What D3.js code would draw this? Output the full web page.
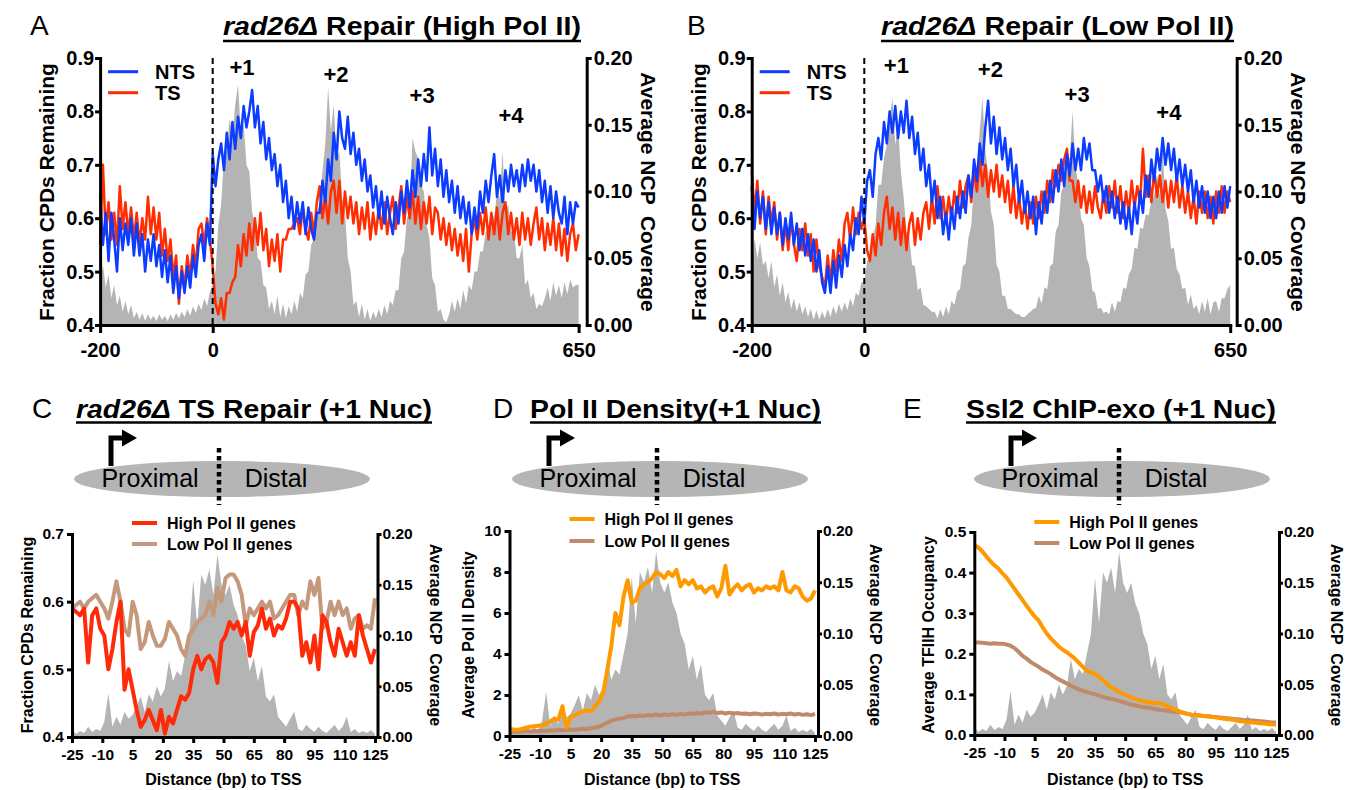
<!DOCTYPE html>
<html>
<head>
<meta charset="utf-8">
<script src="https://cdn.jsdelivr.net/npm/d3@7"></script>
<style>
  body { margin: 0; background: #fff; }
  svg { font-family: 'Liberation Sans', Arial, Helvetica, sans-serif; }
</style>
</head>
<body>
<svg id="fig" width="1347" height="790"></svg>
<script>
// ---- top panels (A, B): values every 5 bp from -200 to 650 ----
const topBp = d3.range(-200, 651, 5)

const ntsHigh = [
  0.645,0.55,0.61,0.52,0.61,0.56,0.50,0.60,0.54,0.59,
  0.55,0.60,0.53,0.59,0.53,0.57,0.50,0.56,0.52,0.57,
  0.51,0.55,0.49,0.54,0.48,0.53,0.46,0.51,0.45,0.50,
  0.46,0.51,0.47,0.53,0.49,0.55,0.57,0.52,0.59,0.55,
  0.72,0.66,0.71,0.74,0.69,0.76,0.71,0.78,0.73,0.79,
  0.75,0.81,0.77,0.80,0.84,0.77,0.81,0.74,0.78,0.71,
  0.75,0.69,0.72,0.66,0.70,0.63,0.67,0.60,0.64,0.58,
  0.63,0.59,0.63,0.57,0.62,0.58,0.56,0.61,0.61,0.67,
  0.63,0.71,0.67,0.76,0.71,0.80,0.75,0.73,0.79,0.72,
  0.76,0.70,0.73,0.67,0.71,0.65,0.68,0.62,0.66,0.60,
  0.65,0.59,0.64,0.60,0.57,0.63,0.59,0.65,0.61,0.67,
  0.62,0.69,0.64,0.71,0.66,0.72,0.67,0.77,0.68,0.73,
  0.66,0.71,0.64,0.69,0.63,0.67,0.61,0.66,0.60,0.64,
  0.59,0.63,0.57,0.62,0.58,0.65,0.61,0.67,0.63,0.68,
  0.72,0.64,0.68,0.63,0.69,0.65,0.70,0.66,0.69,0.65,
  0.70,0.66,0.71,0.67,0.70,0.65,0.69,0.63,0.67,0.61,
  0.66,0.60,0.65,0.61,0.59,0.64,0.57,0.63,0.59,0.63,
  0.62]

const tsHigh = [
  0.55,0.70,0.57,0.63,0.56,0.61,0.55,0.66,0.58,0.63,
  0.57,0.62,0.56,0.61,0.55,0.60,0.56,0.64,0.57,0.62,
  0.56,0.61,0.53,0.58,0.52,0.56,0.49,0.53,0.44,0.51,
  0.47,0.53,0.49,0.55,0.51,0.58,0.59,0.55,0.60,0.56,
  0.51,0.44,0.42,0.45,0.41,0.46,0.46,0.48,0.49,0.55,
  0.51,0.57,0.53,0.59,0.54,0.60,0.55,0.61,0.54,0.58,
  0.51,0.56,0.52,0.57,0.50,0.56,0.56,0.58,0.58,0.59,
  0.60,0.57,0.62,0.58,0.56,0.61,0.57,0.63,0.66,0.60,
  0.64,0.59,0.65,0.67,0.61,0.67,0.59,0.65,0.60,0.64,
  0.59,0.63,0.57,0.62,0.58,0.63,0.56,0.61,0.57,0.62,
  0.58,0.63,0.57,0.61,0.64,0.58,0.62,0.66,0.59,0.64,
  0.60,0.65,0.59,0.64,0.58,0.63,0.59,0.64,0.57,0.62,
  0.61,0.56,0.60,0.55,0.59,0.54,0.58,0.53,0.57,0.52,
  0.58,0.50,0.57,0.60,0.56,0.61,0.57,0.62,0.56,0.61,
  0.57,0.62,0.56,0.61,0.63,0.57,0.61,0.56,0.60,0.55,
  0.61,0.56,0.60,0.55,0.59,0.62,0.56,0.60,0.54,0.59,
  0.55,0.60,0.54,0.59,0.53,0.58,0.52,0.57,0.59,0.54,
  0.57]

const ncpHigh = [
  0.030,0.045,0.028,0.038,0.020,0.030,0.015,0.022,0.010,0.018,
  0.008,0.015,0.005,0.010,0.004,0.009,0.003,0.008,0.004,0.007,
  0.003,0.008,0.004,0.007,0.003,0.008,0.004,0.009,0.005,0.010,
  0.006,0.012,0.007,0.014,0.009,0.016,0.011,0.020,0.014,0.025,
  0.030,0.040,0.075,0.090,0.125,0.130,0.155,0.140,0.165,0.180,
  0.145,0.150,0.120,0.115,0.085,0.075,0.050,0.048,0.030,0.028,
  0.012,0.018,0.008,0.022,0.006,0.016,0.005,0.014,0.008,0.018,
  0.010,0.024,0.020,0.038,0.040,0.060,0.065,0.085,0.090,0.115,
  0.135,0.178,0.145,0.165,0.125,0.130,0.095,0.085,0.050,0.040,
  0.015,0.018,0.006,0.016,0.004,0.012,0.003,0.010,0.005,0.012,
  0.006,0.015,0.008,0.018,0.015,0.026,0.026,0.050,0.055,0.080,
  0.085,0.140,0.130,0.125,0.105,0.100,0.075,0.065,0.035,0.030,
  0.010,0.012,0.004,0.002,0.008,0.018,0.010,0.020,0.012,0.026,
  0.016,0.030,0.026,0.040,0.040,0.055,0.055,0.070,0.070,0.085,
  0.080,0.100,0.095,0.130,0.085,0.090,0.070,0.070,0.050,0.050,
  0.060,0.030,0.034,0.020,0.024,0.012,0.016,0.014,0.020,0.028,
  0.018,0.032,0.022,0.030,0.020,0.032,0.023,0.034,0.028,0.030,
  0.030]

const ntsLow = [
  0.66,0.58,0.65,0.60,0.64,0.58,0.63,0.57,0.62,0.57,
  0.61,0.55,0.60,0.56,0.61,0.55,0.59,0.54,0.58,0.53,
  0.57,0.52,0.56,0.50,0.54,0.48,0.46,0.51,0.46,0.52,
  0.47,0.53,0.49,0.55,0.51,0.57,0.54,0.60,0.57,0.64,
  0.59,0.67,0.69,0.64,0.72,0.75,0.71,0.78,0.74,0.80,
  0.76,0.81,0.75,0.80,0.76,0.82,0.75,0.79,0.72,0.76,
  0.69,0.73,0.66,0.70,0.63,0.67,0.60,0.64,0.57,0.61,
  0.56,0.62,0.58,0.64,0.60,0.65,0.61,0.68,0.64,0.71,
  0.67,0.74,0.70,0.77,0.82,0.74,0.79,0.72,0.77,0.71,
  0.75,0.69,0.73,0.66,0.70,0.63,0.67,0.61,0.65,0.60,
  0.64,0.57,0.63,0.59,0.65,0.61,0.67,0.63,0.69,0.65,
  0.71,0.66,0.72,0.68,0.74,0.69,0.73,0.69,0.75,0.71,
  0.74,0.69,0.69,0.65,0.68,0.63,0.66,0.61,0.65,0.60,
  0.64,0.59,0.63,0.58,0.62,0.57,0.63,0.59,0.65,0.61,
  0.68,0.64,0.71,0.67,0.73,0.69,0.75,0.70,0.74,0.69,
  0.73,0.67,0.71,0.66,0.70,0.65,0.69,0.63,0.67,0.62,
  0.66,0.61,0.65,0.60,0.64,0.60,0.65,0.61,0.66,0.62,
  0.66]

const tsLow = [
  0.69,0.61,0.67,0.59,0.65,0.57,0.64,0.59,0.63,0.56,
  0.61,0.54,0.59,0.54,0.60,0.55,0.52,0.58,0.54,0.59,
  0.53,0.57,0.50,0.56,0.51,0.49,0.47,0.53,0.48,0.54,
  0.50,0.56,0.52,0.59,0.61,0.56,0.62,0.57,0.61,0.58,
  0.60,0.54,0.52,0.57,0.53,0.59,0.55,0.61,0.64,0.58,
  0.62,0.56,0.61,0.55,0.60,0.54,0.59,0.61,0.55,0.60,
  0.56,0.61,0.63,0.58,0.64,0.59,0.66,0.60,0.64,0.59,
  0.64,0.60,0.65,0.61,0.67,0.62,0.66,0.68,0.63,0.69,
  0.65,0.71,0.66,0.70,0.64,0.69,0.65,0.70,0.64,0.68,
  0.63,0.67,0.61,0.66,0.60,0.64,0.59,0.63,0.58,0.63,
  0.59,0.64,0.60,0.65,0.61,0.67,0.63,0.69,0.66,0.70,
  0.67,0.71,0.73,0.67,0.67,0.63,0.67,0.62,0.66,0.61,
  0.65,0.61,0.66,0.62,0.60,0.65,0.61,0.66,0.62,0.67,
  0.61,0.66,0.60,0.65,0.61,0.67,0.62,0.66,0.63,0.73,
  0.64,0.68,0.63,0.69,0.64,0.68,0.63,0.67,0.62,0.67,
  0.63,0.68,0.62,0.66,0.61,0.65,0.60,0.64,0.59,0.65,
  0.61,0.65,0.60,0.64,0.59,0.65,0.61,0.66,0.61,0.65,
  0.63]

const ncpLow = [
  0.040,0.065,0.050,0.062,0.045,0.048,0.035,0.048,0.028,0.038,
  0.022,0.032,0.017,0.025,0.012,0.020,0.010,0.017,0.008,0.014,
  0.006,0.012,0.004,0.011,0.004,0.010,0.005,0.012,0.006,0.014,
  0.008,0.016,0.010,0.017,0.011,0.020,0.014,0.024,0.022,0.032,
  0.032,0.048,0.050,0.065,0.075,0.105,0.105,0.125,0.135,0.155,
  0.170,0.135,0.150,0.115,0.095,0.070,0.065,0.045,0.044,0.026,
  0.028,0.015,0.014,0.012,0.010,0.010,0.005,0.012,0.006,0.014,
  0.008,0.018,0.015,0.025,0.027,0.044,0.046,0.065,0.075,0.105,
  0.115,0.145,0.170,0.130,0.115,0.085,0.075,0.045,0.040,0.022,
  0.022,0.012,0.012,0.010,0.008,0.008,0.006,0.006,0.008,0.010,
  0.012,0.013,0.022,0.016,0.028,0.027,0.044,0.046,0.070,0.075,
  0.100,0.105,0.125,0.125,0.160,0.120,0.105,0.080,0.075,0.050,
  0.044,0.026,0.024,0.012,0.013,0.009,0.010,0.008,0.017,0.010,
  0.018,0.017,0.028,0.027,0.038,0.042,0.058,0.057,0.073,0.072,
  0.083,0.082,0.093,0.097,0.113,0.097,0.135,0.087,0.078,0.057,
  0.058,0.042,0.038,0.027,0.028,0.015,0.023,0.012,0.015,0.008,
  0.018,0.010,0.020,0.008,0.017,0.018,0.010,0.020,0.020,0.027,
  0.030]

const topXTicks = [-200, 0, 650]
const cpdTicks = [0.4, 0.5, 0.6, 0.7, 0.8, 0.9]
const ncpTicks = [0, 0.05, 0.1, 0.15, 0.2]
const nucLabelsHigh = [['+1', 52, 0.868], ['+2', 219, 0.855], ['+3', 372, 0.816], ['+4', 530, 0.778]]
const nucLabelsLow = [['+1', 57, 0.872], ['+2', 224, 0.864], ['+3', 378, 0.818], ['+4', 541, 0.784]]

// ---- bottom panels (C, D, E): values every 2 bp from -25 to 125 ----
const nucBp = d3.range(-25, 126, 2)

const tsRepairHigh = [
  0.59,0.585,0.58,0.59,0.51,0.58,0.59,0.56,0.55,0.50,0.53,0.57,0.60,
  0.47,0.50,0.47,0.44,0.415,0.425,0.44,0.425,0.41,0.44,0.405,0.43,
  0.42,0.44,0.46,0.455,0.465,0.50,0.52,0.50,0.515,0.52,0.51,0.48,
  0.54,0.55,0.57,0.56,0.57,0.55,0.57,0.52,0.555,0.565,0.59,0.56,
  0.575,0.55,0.565,0.56,0.575,0.60,0.60,0.59,0.52,0.54,0.51,0.55,
  0.50,0.58,0.57,0.54,0.52,0.56,0.54,0.52,0.54,0.52,0.58,0.55,
  0.53,0.51,0.53]

const tsRepairLow = [
  0.59,0.595,0.60,0.59,0.60,0.605,0.61,0.60,0.59,0.575,0.60,0.63,0.60,
  0.56,0.55,0.60,0.58,0.53,0.54,0.57,0.55,0.535,0.535,0.545,0.57,
  0.56,0.55,0.53,0.52,0.55,0.56,0.57,0.575,0.58,0.60,0.58,0.62,
  0.60,0.635,0.64,0.64,0.63,0.61,0.565,0.59,0.58,0.59,0.60,0.59,
  0.60,0.575,0.58,0.59,0.60,0.61,0.61,0.58,0.60,0.59,0.63,0.61,
  0.635,0.56,0.57,0.60,0.58,0.60,0.58,0.59,0.56,0.575,0.58,0.56,
  0.565,0.56,0.605]

const polIIHigh = [
  0.35,0.32,0.30,0.35,0.40,0.45,0.48,0.50,0.52,0.60,0.70,0.85,0.80,
  1.45,0.40,0.90,1.00,1.10,1.20,1.25,1.20,1.45,1.70,2.10,3.20,
  4.40,6.00,5.40,6.80,7.60,6.50,6.60,7.20,7.40,7.50,7.70,8.00,
  7.90,7.70,8.00,7.80,8.10,7.30,7.60,7.40,7.60,7.20,7.30,7.00,
  7.20,7.30,6.80,7.20,8.30,6.90,7.20,7.40,7.10,7.30,7.40,7.00,
  7.20,7.10,7.30,7.20,7.30,7.10,8.00,7.10,7.00,7.30,7.20,6.80,
  6.60,6.70,7.10]

const polIILow = [
  0.20,0.22,0.20,0.22,0.24,0.22,0.25,0.23,0.26,0.25,0.28,0.27,0.30,
  0.28,0.30,0.32,0.30,0.33,0.35,0.34,0.38,0.40,0.45,0.55,0.65,
  0.75,0.80,0.85,0.88,0.95,0.98,0.96,1.00,0.98,1.02,1.00,1.05,
  1.00,1.05,1.02,1.06,1.04,1.08,1.05,1.10,1.08,1.12,1.10,1.15,
  1.13,1.18,1.12,1.15,1.10,1.14,1.10,1.12,1.08,1.10,1.06,1.10,
  1.08,1.05,1.08,1.06,1.10,1.05,1.08,1.06,1.10,1.05,1.08,1.03,
  1.06,1.02,1.08]

const tfiihHigh = [
  0.468,0.462,0.452,0.440,0.428,0.418,0.410,0.398,0.388,0.374,0.360,0.346,0.332,
  0.318,0.305,0.292,0.282,0.265,0.250,0.238,0.228,0.218,0.210,0.204,0.196,
  0.188,0.178,0.168,0.158,0.154,0.150,0.143,0.135,0.126,0.118,0.112,0.106,
  0.101,0.097,0.093,0.089,0.086,0.083,0.082,0.080,0.079,0.078,0.076,0.071,
  0.066,0.062,0.058,0.055,0.052,0.050,0.049,0.048,0.047,0.046,0.045,0.044,
  0.042,0.040,0.039,0.038,0.036,0.034,0.033,0.032,0.031,0.030,0.029,0.028,
  0.027,0.026,0.026]

const tfiihLow = [
  0.228,0.228,0.227,0.226,0.225,0.226,0.225,0.225,0.223,0.220,0.214,0.205,0.195,
  0.188,0.180,0.174,0.168,0.161,0.156,0.150,0.143,0.137,0.132,0.127,0.122,
  0.117,0.112,0.109,0.106,0.103,0.100,0.097,0.094,0.091,0.089,0.087,0.084,
  0.081,0.078,0.075,0.073,0.071,0.069,0.068,0.066,0.064,0.062,0.061,0.060,
  0.058,0.057,0.056,0.054,0.052,0.050,0.049,0.048,0.047,0.046,0.045,0.044,
  0.043,0.042,0.041,0.040,0.039,0.038,0.037,0.037,0.036,0.035,0.034,0.033,
  0.032,0.031,0.031]

const ncpNuc1 = [
  0.008,0.003,0.006,0.004,0.010,0.005,0.008,0.006,0.015,0.043,0.010,0.020,0.012,
  0.025,0.018,0.022,0.030,0.040,0.025,0.042,0.035,0.050,0.040,0.048,0.075,
  0.055,0.065,0.060,0.080,0.100,0.155,0.110,0.160,0.150,0.165,0.140,0.180,
  0.150,0.140,0.150,0.130,0.120,0.100,0.090,0.065,0.078,0.055,0.070,0.040,
  0.035,0.042,0.020,0.015,0.010,0.018,0.025,0.008,0.006,0.012,0.008,0.005,
  0.010,0.006,0.004,0.008,0.012,0.006,0.010,0.020,0.005,0.008,0.004,0.006,
  0.004,0.007,0.003]

const nucXTicks = d3.range(-25, 126, 15)

const BLUE = '#0b3cff', RED = '#ff2d00', GRAY = '#b4b4b4'
const ORANGE = '#ff9900', TAN = '#c4987a', BROWN = '#c08a68'

const svg = d3.select('#fig')

const styleAxis = (sel, size) => {
  sel.attr('font-family', null).attr('font-size', size).attr('font-weight', 'bold')
  sel.select('.domain').attr('stroke-width', 3).attr('stroke-linecap', 'square')
  sel.selectAll('.tick line').attr('stroke-width', 3)
  sel.selectAll('.tick text').attr('fill', '#000')
}

const panelTitle = (letter, lx, parts, x1, x2, y, uy) => {
  svg.append('text').attr('x', lx).attr('y', y).attr('font-size', 28).text(letter)
  const t = svg.append('text').attr('font-size', 25).attr('font-weight', 'bold')
  parts.forEach(p => t.append('tspan').attr('font-style', p[1] ? 'italic' : null).text(p[0]))
  const w = t.node().getComputedTextLength()
  t.attr('transform', `translate(${x1},${y}) scale(${(x2 - x1) / w},1)`)
  svg.append('line').attr('x1', x1).attr('x2', x2).attr('y1', uy).attr('y2', uy)
    .attr('stroke', '#000').attr('stroke-width', 2.5)
}

const vTitle = (txt, x, y, size, angle) => {
  svg.append('text').attr('transform', `translate(${x},${y}) rotate(${angle})`)
    .attr('text-anchor', 'middle').attr('font-size', size).attr('font-weight', 'bold')
    .style('white-space', 'pre').text(txt)
}

// Top repair panels
const repairPanel = (o) => {
  const x = d3.scaleLinear().domain([-200, 650]).range([o.left, o.left + 478.5])
  const y = d3.scaleLinear().domain([0.4, 0.9]).range([325, 58])
  const y2 = d3.scaleLinear().domain([0, 0.2]).range([325, 58])
  const g = svg.append('g')

  g.append('path').datum(o.ncp)
    .attr('fill', GRAY)
    .attr('d', d3.area().x((d, i) => x(topBp[i])).y0(y2(0)).y1(d => y2(d)))

  const line = d3.line().x((d, i) => x(topBp[i])).y(d => y(d))
  g.append('path').datum(o.ts).attr('fill', 'none').attr('stroke', RED)
    .attr('stroke-width', 2.5).attr('stroke-linejoin', 'round').attr('d', line)
  g.append('path').datum(o.nts).attr('fill', 'none').attr('stroke', BLUE)
    .attr('stroke-width', 2.5).attr('stroke-linejoin', 'round').attr('d', line)

  g.append('line').attr('x1', x(0)).attr('x2', x(0)).attr('y1', 58).attr('y2', 325)
    .attr('stroke', '#000').attr('stroke-width', 2).attr('stroke-dasharray', '6,4')

  g.append('g').attr('transform', 'translate(0,325)')
    .call(d3.axisBottom(x).tickValues(topXTicks).tickFormat(d => String(d))
      .tickSize(8).tickPadding(10).tickSizeOuter(0))
    .call(s => styleAxis(s, 20))
  g.append('g').attr('transform', `translate(${o.left},0)`)
    .call(d3.axisLeft(y).tickValues(cpdTicks).tickFormat(d3.format('.1f'))
      .tickSize(5).tickPadding(1).tickSizeOuter(0))
    .call(s => styleAxis(s, 20))
  g.append('g').attr('transform', `translate(${o.raxis},0)`)
    .call(d3.axisRight(y2).tickValues(ncpTicks).tickFormat(d3.format('.2f'))
      .tickSize(5).tickPadding(2).tickSizeOuter(0))
    .call(s => styleAxis(s, 20))

  o.labels.forEach(l => {
    g.append('text').attr('x', x(l[1])).attr('y', y(l[2])).attr('text-anchor', 'middle')
      .attr('font-size', 22).attr('font-weight', 'bold').text(l[0])
  })

  const leg = [['NTS', BLUE, 71.7], ['TS', RED, 92.7]]
  leg.forEach(l => {
    g.append('line').attr('x1', o.left + 8).attr('x2', o.left + 38).attr('y1', l[2]).attr('y2', l[2])
      .attr('stroke', l[1]).attr('stroke-width', 3)
    g.append('text').attr('x', o.left + 55).attr('y', l[2] + 7).attr('font-size', 20)
      .attr('font-weight', 'bold').text(l[0])
  })

  vTitle('Fraction CPDs Remaining', o.left - 46, 192, 21, -90)
  vTitle('Average NCP  Coverage', o.raxis + 54, 192, 21, 90)
}

repairPanel({ left: 100.1, raxis: 586.7, nts: ntsHigh, ts: tsHigh, ncp: ncpHigh, labels: nucLabelsHigh })
repairPanel({ left: 751.7, raxis: 1236.7, nts: ntsLow, ts: tsLow, ncp: ncpLow, labels: nucLabelsLow })

panelTitle('A', 30, [['rad26Δ', true], [' Repair (High Pol II)', false]], 223, 581, 35, 41)
panelTitle('B', 687, [['rad26Δ', true], [' Repair (Low Pol II)', false]], 881, 1234, 35, 41)

// Bottom +1 nucleosome panels
const nucPanel = (o) => {
  const x = d3.scaleLinear().domain([-25, 125]).range([o.left, o.right])
  const y = d3.scaleLinear().domain(o.yDomain).range([o.bottom, o.top])
  const y2 = d3.scaleLinear().domain([0, 0.2]).range([o.bottom, o.top])
  const g = svg.append('g')

  // schematic: promoter arrow, nucleosome, dyad
  const cx = o.cx
  g.append('path').attr('d', `M${cx - 111},466V438H${cx - 98}`)
    .attr('fill', 'none').attr('stroke', '#000').attr('stroke-width', 5)
  g.append('path').attr('d', `M${cx - 100},429.5L${cx - 85},438L${cx - 100},446.5Z`).attr('fill', '#000')
  g.append('ellipse').attr('cx', cx).attr('cy', 479).attr('rx', 148).attr('ry', 18).attr('fill', '#b5b5b5')
  g.append('text').attr('x', cx - 72).attr('y', 487).attr('text-anchor', 'middle')
    .attr('font-size', 25).text('Proximal')
  g.append('text').attr('x', cx + 54).attr('y', 487).attr('text-anchor', 'middle')
    .attr('font-size', 25).text('Distal')
  g.append('line').attr('x1', cx - 3).attr('x2', cx - 3).attr('y1', 448).attr('y2', 505)
    .attr('stroke', '#000').attr('stroke-width', 4.5).attr('stroke-dasharray', '4.5,3.5')

  g.append('path').datum(ncpNuc1)
    .attr('fill', GRAY)
    .attr('d', d3.area().x((d, i) => x(nucBp[i])).y0(y2(0)).y1(d => y2(d)))

  const line = d3.line().x((d, i) => x(nucBp[i])).y(d => y(d))
  g.append('path').datum(o.low).attr('fill', 'none').attr('stroke', o.lowColor)
    .attr('stroke-width', 4).attr('stroke-linejoin', 'round').attr('d', line)
  g.append('path').datum(o.high).attr('fill', 'none').attr('stroke', o.highColor)
    .attr('stroke-width', 4).attr('stroke-linejoin', 'round').attr('d', line)

  g.append('g').attr('transform', `translate(0,${o.bottom})`)
    .call(d3.axisBottom(x).tickValues(nucXTicks).tickFormat(d => String(d))
      .tickSize(6).tickPadding(6).tickSizeOuter(0))
    .call(s => styleAxis(s, 15.5))
  g.append('g').attr('transform', `translate(${o.left},0)`)
    .call(d3.axisLeft(y).tickValues(o.yTicks).tickFormat(o.yFormat)
      .tickSize(5).tickPadding(3).tickSizeOuter(0))
    .call(s => styleAxis(s, 15.5))
  g.append('g').attr('transform', `translate(${o.raxis},0)`)
    .call(d3.axisRight(y2).tickValues(ncpTicks).tickFormat(d3.format('.2f'))
      .tickSize(4).tickPadding(1).tickSizeOuter(0))
    .call(s => styleAxis(s, 15.5))

  const leg = [['High Pol II genes', o.highColor, o.legY[0]], ['Low Pol II genes', o.lowColor, o.legY[1]]]
  leg.forEach(l => {
    g.append('line').attr('x1', o.left + 60).attr('x2', o.left + 85).attr('y1', l[2]).attr('y2', l[2])
      .attr('stroke', l[1]).attr('stroke-width', 4)
    g.append('text').attr('x', o.left + 95).attr('y', l[2] + 6).attr('font-size', 16)
      .attr('font-weight', 'bold').text(l[0])
  })

  vTitle(o.yTitle, o.left - o.yTitleOff, 635, 16, -90)
  vTitle('Average NCP  Coverage', o.raxis + 52, 635, 16, 90)
  g.append('text').attr('x', (o.left + o.right) / 2).attr('y', 785).attr('text-anchor', 'middle')
    .attr('font-size', 16).attr('font-weight', 'bold').text('Distance (bp) to TSS')
}

nucPanel({
  left: 72, right: 375, raxis: 377.5, top: 534, bottom: 737, cx: 222,
  yDomain: [0.4, 0.7], yTicks: [0.4, 0.5, 0.6, 0.7], yFormat: d3.format('.1f'),
  high: tsRepairHigh, low: tsRepairLow, highColor: '#ff2a08', lowColor: TAN,
  legY: [523, 544], yTitle: 'Fraction CPDs Remaining', yTitleOff: 39
})
nucPanel({
  left: 509.5, right: 815, raxis: 818, top: 531, bottom: 736, cx: 660,
  yDomain: [0, 10], yTicks: [0, 2, 4, 6, 8, 10], yFormat: d3.format('d'),
  high: polIIHigh, low: polIILow, highColor: ORANGE, lowColor: BROWN,
  legY: [519, 541], yTitle: 'Average Pol II Density', yTitleOff: 36
})
nucPanel({
  left: 974.3, right: 1276, raxis: 1279, top: 532, bottom: 735, cx: 1122,
  yDomain: [0, 0.5], yTicks: [0, 0.1, 0.2, 0.3, 0.4, 0.5], yFormat: d3.format('.1f'),
  high: tfiihHigh, low: tfiihLow, highColor: ORANGE, lowColor: BROWN,
  legY: [522, 543], yTitle: 'Average TFIIH Occupancy', yTitleOff: 40
})

panelTitle('C', 32, [['rad26Δ', true], [' TS Repair (+1 Nuc)', false]], 76, 432, 418, 422.5)
panelTitle('D', 493, [['Pol II Density(+1 Nuc)', false]], 530, 821, 418, 422.5)
panelTitle('E', 903, [['Ssl2 ChIP-exo (+1 Nuc)', false]], 966, 1276, 418, 422.5)
</script>
</body>
</html>
